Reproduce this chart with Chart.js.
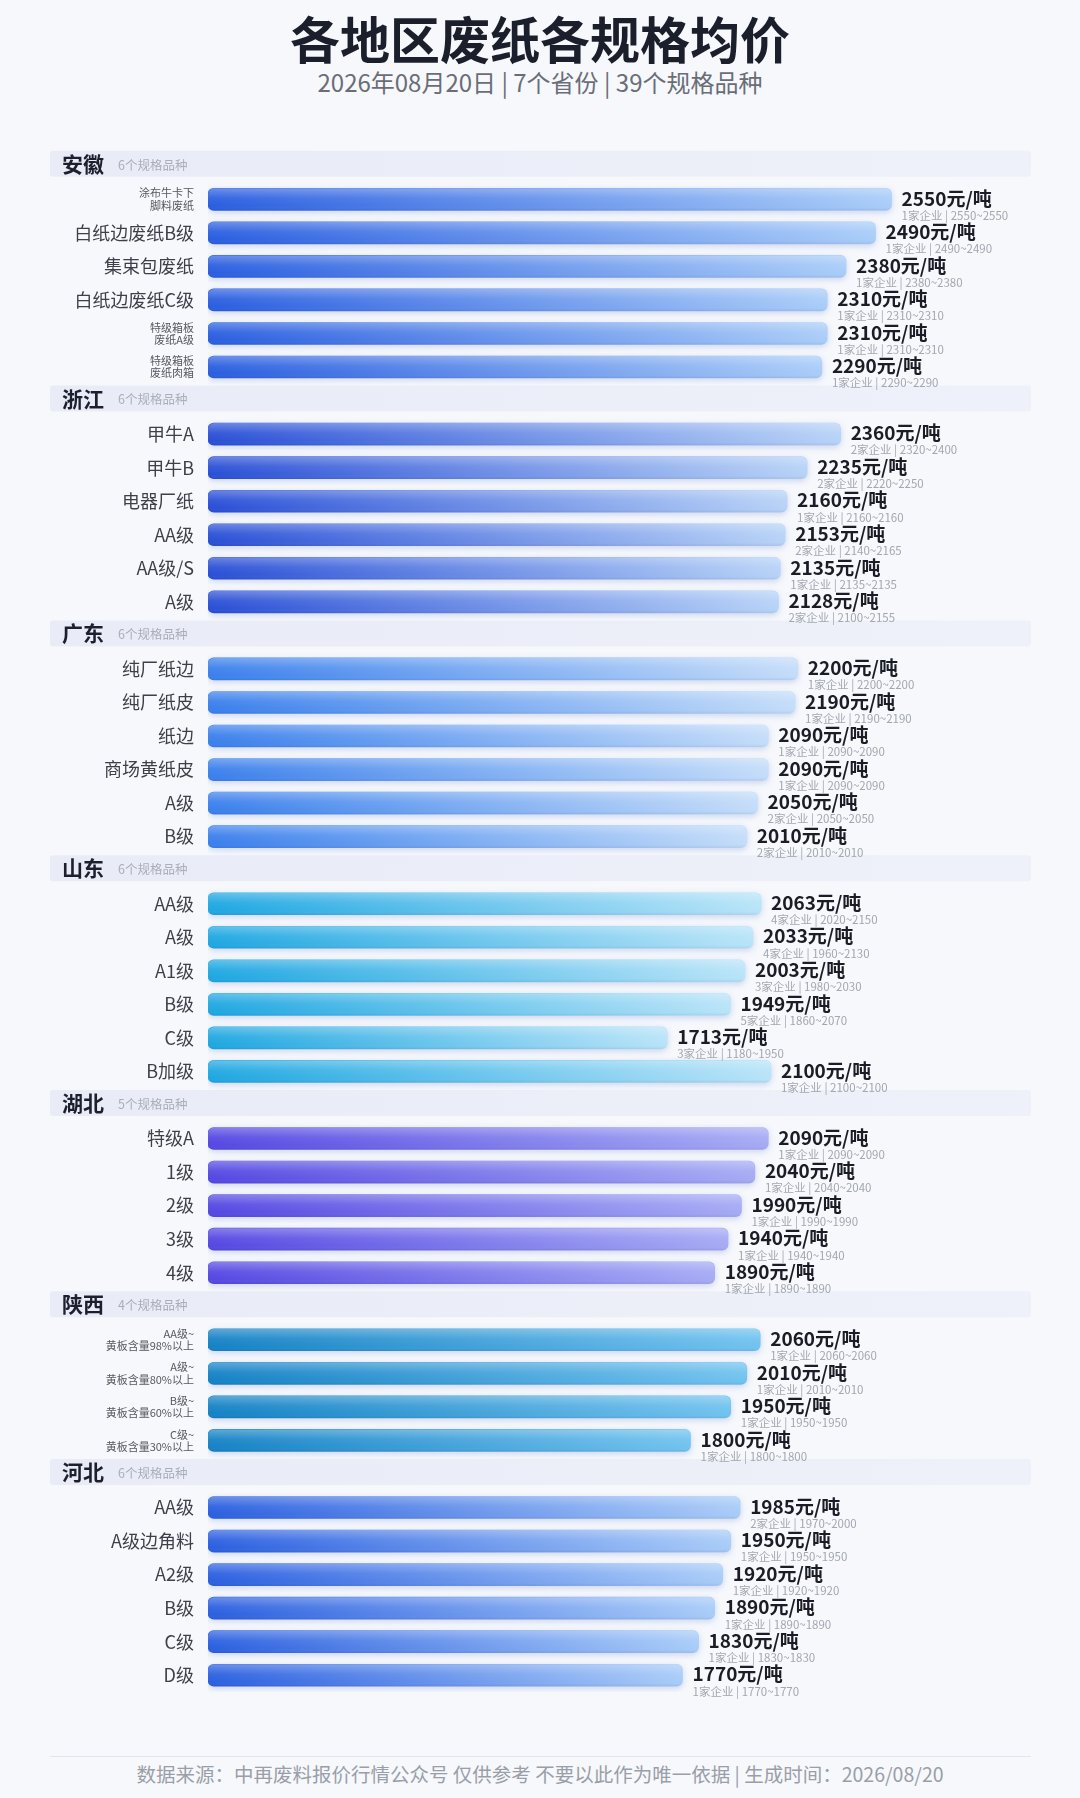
<!DOCTYPE html>
<html>
<head>
<meta charset="utf-8">
<script src="https://cdn.jsdelivr.net/npm/chart.js@4.4.1/dist/chart.umd.min.js"></script>
<style>
  body { margin: 0; background: #f6f8fb; font-family: "Noto Sans CJK SC", "Noto Sans", sans-serif; }
  .page { position: relative; width: 1080px; height: 1798px; overflow: hidden; }
  .title { position: absolute; top: 6px; left: 0; width: 1080px; text-align: center;
    font-size: 50px; line-height: 62px; font-weight: 700; color: #1b1e2b; }
  .subtitle { position: absolute; top: 66px; left: 0; width: 1080px; text-align: center;
    font-size: 24px; line-height: 32px; color: #6a6d78; }
  .wrap { position: absolute; top: 120px; left: 0; width: 1080px; height: 1600px; }
  .footer-line { position: absolute; top: 1756px; left: 50px; width: 981px; height: 1px; background: #e2e5ed; }
  .footer { position: absolute; top: 1761px; left: 0; width: 1080px; text-align: center;
    font-size: 19.5px; line-height: 26px; color: #9a9ea8; }
</style>
</head>
<body>
<div class="page">
  <div class="title">各地区废纸各规格均价</div>
  <div class="subtitle">2026年08月20日 | 7个省份 | 39个规格品种</div>
  <div class="wrap"><canvas id="chart"></canvas></div>
  <div class="footer-line"></div>
  <div class="footer">数据来源：中再废料报价行情公众号 仅供参考 不要以此作为唯一依据 | 生成时间：2026/08/20</div>
</div>
<script>
const provinces = ['安徽', '浙江', '广东', '山东', '湖北', '陕西', '河北'];

const grades = [
  ['涂布牛卡下脚料废纸', '白纸边废纸B级', '集束包废纸', '白纸边废纸C级', '特级箱板废纸A级', '特级箱板废纸肉箱'],
  ['甲牛A', '甲牛B', '电器厂纸', 'AA级', 'AA级/S', 'A级'],
  ['纯厂纸边', '纯厂纸皮', '纸边', '商场黄纸皮', 'A级', 'B级'],
  ['AA级', 'A级', 'A1级', 'B级', 'C级', 'B加级'],
  ['特级A', '1级', '2级', '3级', '4级'],
  ['AA级~黄板含量98%以上', 'A级~黄板含量80%以上', 'B级~黄板含量60%以上', 'C级~黄板含量30%以上'],
  ['AA级', 'A级边角料', 'A2级', 'B级', 'C级', 'D级']
];

const prices = [
  [2550, 2490, 2380, 2310, 2310, 2290],
  [2360, 2235, 2160, 2153, 2135, 2128],
  [2200, 2190, 2090, 2090, 2050, 2010],
  [2063, 2033, 2003, 1949, 1713, 2100],
  [2090, 2040, 1990, 1940, 1890],
  [2060, 2010, 1950, 1800],
  [1985, 1950, 1920, 1890, 1830, 1770]
];

const firms = [
  [1, 1, 1, 1, 1, 1],
  [2, 2, 1, 2, 1, 2],
  [1, 1, 1, 1, 2, 2],
  [4, 4, 3, 5, 3, 1],
  [1, 1, 1, 1, 1],
  [1, 1, 1, 1],
  [2, 1, 1, 1, 1, 1]
];

const lowPrices = [
  [2550, 2490, 2380, 2310, 2310, 2290],
  [2320, 2220, 2160, 2140, 2135, 2100],
  [2200, 2190, 2090, 2090, 2050, 2010],
  [2020, 1960, 1980, 1860, 1180, 2100],
  [2090, 2040, 1990, 1940, 1890],
  [2060, 2010, 1950, 1800],
  [1970, 1950, 1920, 1890, 1830, 1770]
];

const highPrices = [
  [2550, 2490, 2380, 2310, 2310, 2290],
  [2400, 2250, 2160, 2165, 2135, 2155],
  [2200, 2190, 2090, 2090, 2050, 2010],
  [2150, 2130, 2030, 2070, 1950, 2100],
  [2090, 2040, 1990, 1940, 1890],
  [2060, 2010, 1950, 1800],
  [2000, 1950, 1920, 1890, 1830, 1770]
];

// left / right colour of each province's bars
const barColors = [
  ['#2a5ee0', '#aacdf8'],
  ['#2a4fd6', '#b8d3f7'],
  ['#3a7fec', '#c4ddf9'],
  ['#1ea7e1', '#b9e4f8'],
  ['#5547e2', '#a6abf4'],
  ['#1582c5', '#72c3ef'],
  ['#2b5fe0', '#a9ccf8']
];

const FONT = '"Noto Sans CJK SC", "Noto Sans", sans-serif';

// one row per province header, then one per grade
const rows = [];
provinces.forEach((p, pi) => {
  rows.push({ head: true, p: pi });
  grades[pi].forEach((g, gi) => rows.push({ head: false, p: pi, i: gi }));
});

const labels = rows.map(r => r.head ? provinces[r.p] : grades[r.p][r.i]);
const values = rows.map(r => r.head ? null : prices[r.p][r.i]);

function splitLabel(s) {
  const k = s.indexOf('~');
  if (k >= 0) return [s.slice(0, k + 1), s.slice(k + 1)];
  if (s.length > 7) {
    const h = Math.ceil(s.length / 2);
    return [s.slice(0, h), s.slice(h)];
  }
  return s;
}

function isSmall(index) {
  const r = rows[index];
  return r && !r.head && Array.isArray(splitLabel(labels[index]));
}

const decorPlugin = {
  id: 'decor',
  beforeDatasetsDraw(chart) {
    const ctx = chart.ctx;
    const y = chart.scales.y;
    const area = chart.chartArea;
    ctx.save();
    rows.forEach((r, idx) => {
      if (!r.head) return;
      const py = y.getPixelForValue(idx) - 2;
      const g = ctx.createLinearGradient(50, 0, area.right, 0);
      g.addColorStop(0, '#e9ecf7');
      g.addColorStop(1, '#eef1f9');
      ctx.fillStyle = g;
      ctx.beginPath();
      ctx.roundRect(50, py - 13, area.right - 50, 26, 3);
      ctx.fill();

      ctx.textBaseline = 'middle';
      ctx.textAlign = 'left';
      ctx.fillStyle = '#1c1f2e';
      ctx.font = 'bold 21px ' + FONT;
      const name = provinces[r.p];
      ctx.fillText(name, 62, py);
      const w = ctx.measureText(name).width;
      ctx.fillStyle = '#a9aeba';
      ctx.font = '12.5px ' + FONT;
      ctx.fillText(grades[r.p].length + '个规格品种', 62 + w + 14, py + 1);
    });
    ctx.restore();

    ctx.save();
    ctx.shadowColor = 'rgba(50, 90, 200, 0.22)';
    ctx.shadowBlur = 6;
    ctx.shadowOffsetY = 2;
  },
  afterDatasetsDraw(chart) {
    const ctx = chart.ctx;
    ctx.restore();
    const meta = chart.getDatasetMeta(0);
    ctx.save();
    meta.data.forEach((bar, idx) => {
      const r = rows[idx];
      if (r.head) return;
      const left = bar.base;
      const right = bar.x;
      const top = bar.y - bar.height / 2;
      const h = bar.height;

      // glossy top highlight
      const gl = ctx.createLinearGradient(0, top, 0, top + h);
      gl.addColorStop(0, 'rgba(255,255,255,0.30)');
      gl.addColorStop(0.45, 'rgba(255,255,255,0.06)');
      gl.addColorStop(0.8, 'rgba(255,255,255,0)');
      gl.addColorStop(1, 'rgba(0,0,60,0.08)');
      ctx.fillStyle = gl;
      ctx.beginPath();
      ctx.roundRect(left, top, right - left, h, 6);
      ctx.fill();

      // value + details
      ctx.textAlign = 'left';
      ctx.textBaseline = 'middle';
      ctx.fillStyle = '#1a1c26';
      ctx.font = 'bold 19px ' + FONT;
      ctx.fillText(prices[r.p][r.i] + '元/吨', right + 10, bar.y - 1);
      ctx.fillStyle = '#a3a7b0';
      ctx.font = '11.5px ' + FONT;
      ctx.fillText(firms[r.p][r.i] + '家企业 | ' + lowPrices[r.p][r.i] + '~' + highPrices[r.p][r.i],
        right + 10, bar.y + 16);
    });
    ctx.restore();
  }
};

Chart.defaults.font.family = FONT;

new Chart(document.getElementById('chart'), {
  type: 'bar',
  data: {
    labels: labels,
    datasets: [{
      data: values,
      barThickness: 22,
      borderRadius: 6,
      borderSkipped: false,
      backgroundColor: function(context) {
        const chart = context.chart;
        const r = rows[context.dataIndex];
        if (!r || r.head) return 'rgba(0,0,0,0)';
        const c = barColors[r.p];
        const area = chart.chartArea;
        if (!area) return c[0];
        const x1 = chart.scales.x.getPixelForValue(context.raw);
        const g = chart.ctx.createLinearGradient(area.left, 0, x1, 0);
        g.addColorStop(0, c[0]);
        g.addColorStop(1, c[1]);
        return g;
      }
    }]
  },
  options: {
    indexAxis: 'y',
    responsive: true,
    maintainAspectRatio: false,
    animation: false,
    layout: { padding: { top: 29, bottom: 28, left: 0, right: 49 } },
    plugins: {
      legend: { display: false },
      tooltip: { enabled: false }
    },
    scales: {
      x: {
        display: false,
        min: 0,
        max: 3070,
        grid: { display: false }
      },
      y: {
        grid: { display: false, drawTicks: false },
        border: { display: false },
        afterFit: function(scale) { scale.width = 208; },
        ticks: {
          autoSkip: false,
          padding: 14,
          color: function(context) { return isSmall(context.index) ? '#555860' : '#3e4049'; },
          font: function(context) {
            return isSmall(context.index) ? { size: 11, lineHeight: 1.1 } : { size: 18 };
          },
          callback: function(value, index) {
            if (rows[index].head) return '';
            return splitLabel(labels[index]);
          }
        }
      }
    }
  },
  plugins: [decorPlugin]
});
</script>
</body>
</html>
